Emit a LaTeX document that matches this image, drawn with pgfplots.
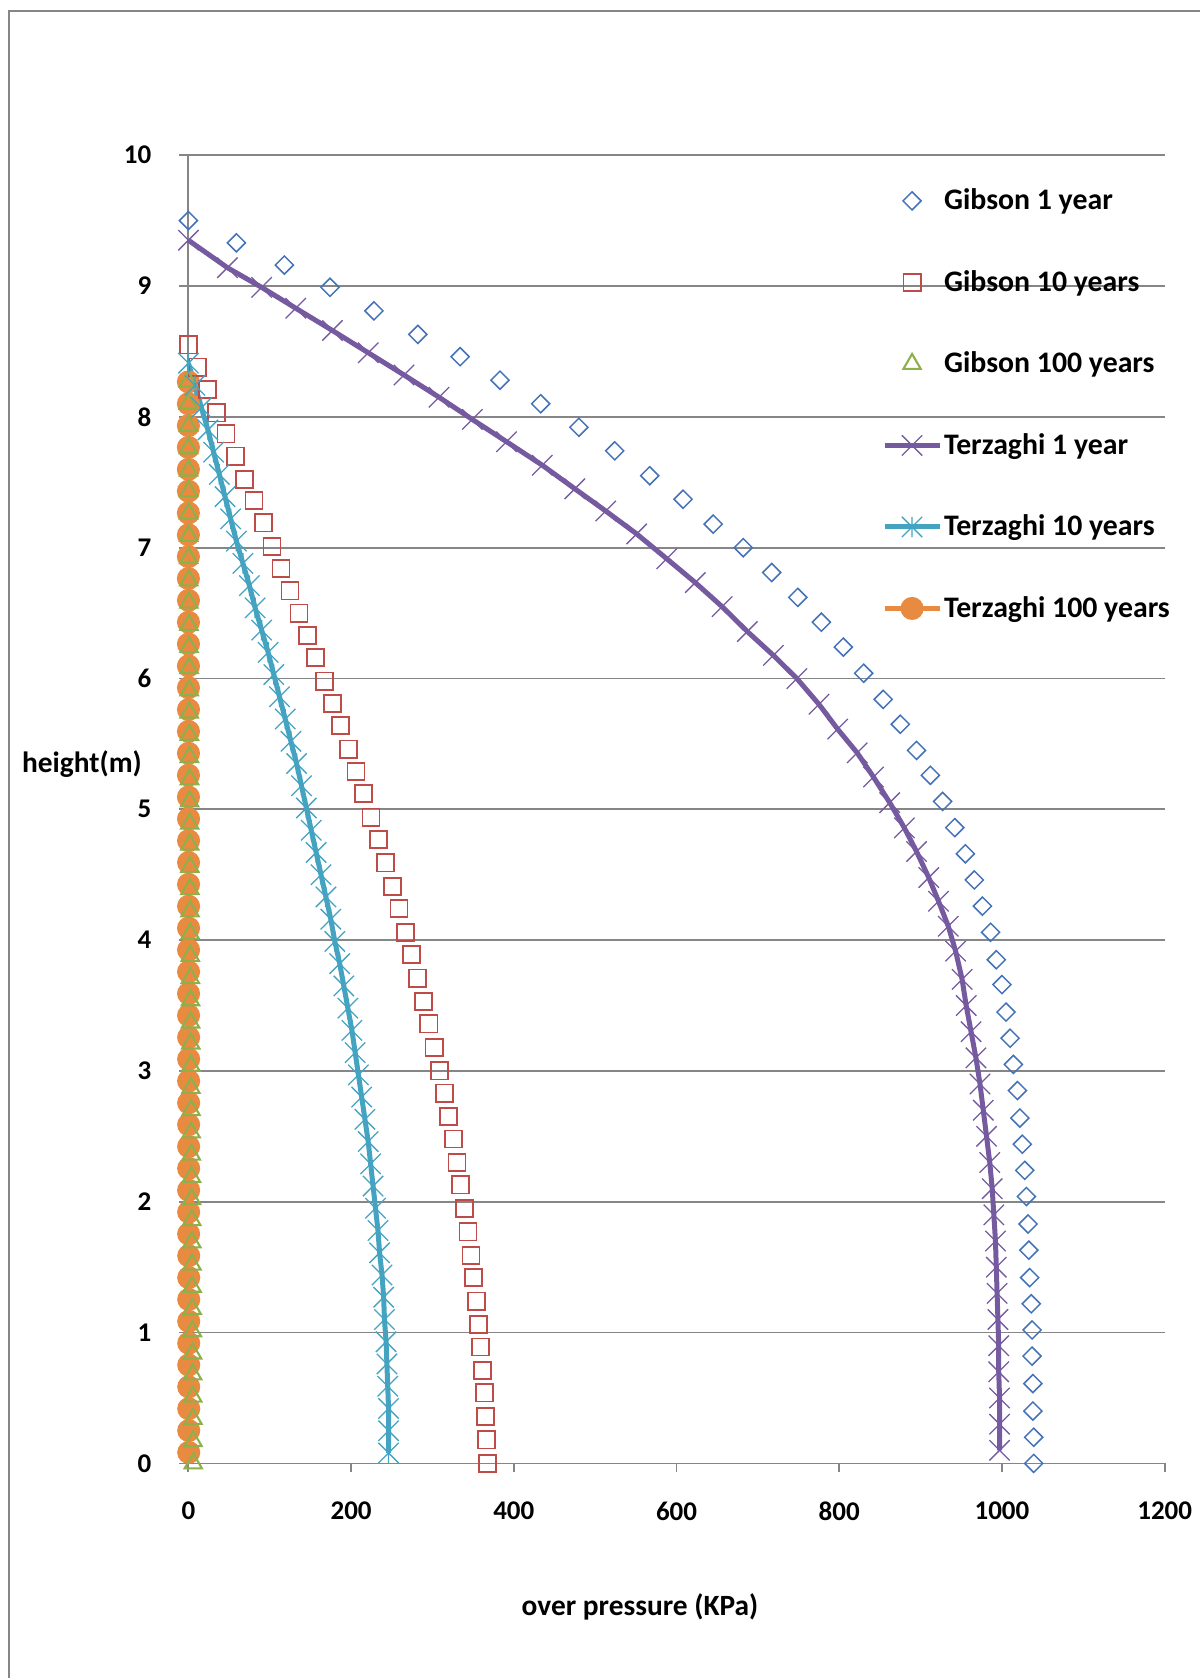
\documentclass[border=0pt]{standalone}
\usepackage{pgfplots}
\pgfplotsset{compat=1.18}
\usepackage{fontspec}
\setmainfont{Carlito}
\definecolor{cblue}{HTML}{4472B8}
\definecolor{cred}{HTML}{BE4B48}
\definecolor{cgreen}{HTML}{8DB04A}
\definecolor{cpurple}{HTML}{765AA0}
\definecolor{cteal}{HTML}{45A3C2}
\definecolor{corange}{HTML}{E88B41}
\definecolor{cgrid}{HTML}{868686}
\pgfdeclareplotmark{xstar}{%
  \pgfpathmoveto{\pgfqpoint{-.70710678\pgfplotmarksize}{-.70710678\pgfplotmarksize}}%
  \pgfpathlineto{\pgfqpoint{.70710678\pgfplotmarksize}{.70710678\pgfplotmarksize}}%
  \pgfpathmoveto{\pgfqpoint{-.70710678\pgfplotmarksize}{.70710678\pgfplotmarksize}}%
  \pgfpathlineto{\pgfqpoint{.70710678\pgfplotmarksize}{-.70710678\pgfplotmarksize}}%
  \pgfpathmoveto{\pgfqpoint{0pt}{-.70710678\pgfplotmarksize}}%
  \pgfpathlineto{\pgfqpoint{0pt}{.70710678\pgfplotmarksize}}%
  \pgfusepathqstroke}
\pgfplotsset{mylegend/.style={legend image code/.code={\draw[mark repeat=2,mark phase=2,##1] plot coordinates {(0pt,0pt) (13.75pt,0pt) (27.5pt,0pt)};}}}
\begin{document}
\begin{tikzpicture}
\begin{axis}[
  name=ax,
  scale only axis,
  width=488.15pt, height=654.1pt,
  xmin=0, xmax=1200, ymin=0, ymax=10,
  xtick={0,200,400,600,800,1000,1200},
  ytick={0,1,2,3,4,5,6,7,8,9,10},
  axis x line=bottom, axis y line=left,
  axis line style={draw=cgrid, line width=0.9pt, -},
  ymajorgrids, grid style={draw=cgrid, line width=0.9pt},
  tick align=outside, major tick length=4.5pt,
  tick style={draw=cgrid, line width=0.9pt},
  /pgf/number format/assume math mode=true,
  /pgf/number format/1000 sep={},
  ticklabel style={font=\bfseries\fontsize{13.5}{16}\selectfont},
  xticklabel style={anchor=center, inner sep=0pt, yshift=-19.3pt},
  yticklabel style={anchor=east, inner sep=0pt, xshift=-13.9pt},
  xlabel={over pressure (KPa)},
  ylabel={height(m)},
  every axis x label/.style={at={(rel axis cs:0.4626,-0.1098)}, anchor=center, font=\bfseries\fontsize{14.7}{17}\selectfont},
  every axis y label/.style={at={(rel axis cs:-0.109,0.5346)}, anchor=center, font=\bfseries\fontsize{14.7}{17}\selectfont},
  clip=false,
  mylegend,
  legend cell align=left,
  legend style={at={(rel axis cs:0.7101,0.9745)}, anchor=north west, draw=none, fill=none,
    inner sep=0pt, nodes={inner sep=0pt}, row sep=28.8pt,
    /tikz/every odd column/.append style={column sep=1pt},
    font=\bfseries\fontsize{14.9}{17}\selectfont},
]
% Terzaghi 100 years (drawn first, beneath the others)
\addplot[corange, line width=2.5pt, mark=*, mark size=4.5pt, mark options={solid}, forget plot] coordinates {
(0.4,0.084) (0.4,0.251) (0.4,0.418) (0.4,0.585) (0.4,0.752) (0.4,0.919) (0.4,1.086) (0.4,1.253) (0.4,1.420) (0.4,1.587)
(0.3,1.754) (0.3,1.921) (0.3,2.088) (0.3,2.255) (0.3,2.422) (0.3,2.589) (0.3,2.756) (0.3,2.923) (0.3,3.090) (0.3,3.257)
(0.2,3.424) (0.2,3.591) (0.2,3.758) (0.2,3.925) (0.2,4.092) (0.2,4.259) (0.2,4.426) (0.2,4.593) (0.2,4.760) (0.2,4.927)
(0.1,5.094) (0.1,5.261) (0.1,5.428) (0.1,5.595) (0.1,5.762) (0.1,5.929) (0.1,6.096) (0.1,6.263) (0.1,6.430) (0.1,6.597)
(0.0,6.764) (0.0,6.931) (0.0,7.098) (0.0,7.265) (0.0,7.432) (0.0,7.599) (0.0,7.766) (0.0,7.933) (0.0,8.100) (0.0,8.267)
};
% Gibson 1 year
\addplot[only marks, cblue, mark=square, mark size=3.2pt, mark options={rotate=45, line width=0.75pt}, mylegend] coordinates {
(0,9.50) (59,9.33) (118,9.16) (174,8.99) (228,8.81) (282,8.63) (334,8.46) (383,8.28) (433,8.10) (480,7.92)
(524,7.74) (567,7.55) (608,7.37) (645,7.18) (682,7.00) (717,6.81) (749,6.62) (778,6.43) (805,6.24) (830,6.04)
(854,5.84) (875,5.65) (895,5.45) (912,5.26) (927,5.06) (942,4.86) (955,4.66) (966,4.46) (976,4.26) (986,4.06)
(993,3.85) (1000,3.66) (1005,3.45) (1010,3.25) (1014,3.05) (1019,2.85) (1022,2.64) (1025,2.44) (1028,2.24) (1030,2.04)
(1032,1.83) (1033,1.63) (1034,1.42) (1036,1.22) (1037,1.02) (1037,0.82) (1038,0.61) (1038,0.40) (1039,0.20) (1039,0.00)
};
\addlegendentry{Gibson 1 year}
% Gibson 10 years
\addplot[only marks, cred, mark=square, mark size=4.3pt, mark options={line width=0.85pt}, mylegend] coordinates {
(0,8.55) (11.4,8.38) (23.3,8.21) (34.3,8.03) (46.2,7.87) (57.7,7.70) (69.2,7.52) (80.6,7.36) (92.1,7.19) (102.8,7.01)
(113.8,6.84) (124.9,6.67) (135.9,6.50) (146.2,6.33) (156.4,6.16) (167.1,5.98) (176.9,5.81) (187.2,5.64) (196.6,5.46) (206.0,5.29)
(215.4,5.12) (224.4,4.94) (233.4,4.77) (242.0,4.59) (251.1,4.41) (258.9,4.24) (266.6,4.06) (274.4,3.89) (281.8,3.71) (288.7,3.53)
(295.5,3.36) (302.1,3.18) (308.4,3.00) (314.6,2.83) (319.9,2.65) (325.6,2.48) (330.2,2.30) (334.7,2.13) (339.6,1.95) (343.7,1.77)
(347.4,1.59) (350.7,1.42) (353.9,1.24) (356.8,1.06) (359.3,0.89) (361.7,0.71) (363.7,0.54) (364.9,0.36) (366.2,0.18) (367.4,0.00)
};
\addlegendentry{Gibson 10 years}
% Gibson 100 years
\addplot[only marks, cgreen, mark=triangle, mark size=5pt, mark options={line width=1.05pt}, mylegend] coordinates {
(0.0,8.27) (0.0,8.10) (0.1,7.93) (0.1,7.76) (0.2,7.59) (0.2,7.43) (0.3,7.26) (0.4,7.09) (0.4,6.92) (0.5,6.75)
(0.6,6.58) (0.7,6.41) (0.8,6.24) (0.9,6.08) (1.0,5.91) (1.0,5.74) (1.1,5.57) (1.2,5.40) (1.4,5.23) (1.5,5.06)
(1.6,4.89) (1.7,4.73) (1.8,4.56) (1.9,4.39) (2.0,4.22) (2.2,4.05) (2.3,3.88) (2.4,3.71) (2.6,3.54) (2.7,3.37)
(2.9,3.21) (3.0,3.04) (3.1,2.87) (3.3,2.70) (3.4,2.53) (3.6,2.36) (3.8,2.19) (3.9,2.02) (4.1,1.86) (4.2,1.69)
(4.4,1.52) (4.6,1.35) (4.7,1.18) (4.9,1.01) (5.1,0.84) (5.3,0.68) (5.4,0.51) (5.6,0.34) (5.8,0.17) (6.0,0.00)
};
\addlegendentry{Gibson 100 years}
% Terzaghi 1 year
\addplot[cpurple, line width=2.5pt, mark=x, mark size=7.2pt, mark options={solid, line width=0.65pt}] coordinates {
(0,9.35) (48,9.14) (90,8.99) (132,8.83) (177,8.66) (221,8.49) (265,8.32) (308,8.15) (349,7.98) (391,7.81)
(435,7.63) (475,7.45) (513,7.28) (551,7.105) (588,6.915) (623,6.733) (656,6.549) (687,6.359) (719,6.177) (748,5.999)
(775,5.803) (798,5.613) (822,5.432) (842,5.247) (862,5.051) (880,4.858) (895,4.677) (910,4.478) (922,4.297) (934,4.106)
(943,3.916) (951,3.70) (956,3.50) (962,3.30) (968,3.10) (973,2.90) (977,2.70) (981,2.50) (985,2.30) (988,2.10)
(990,1.90) (992,1.70) (993,1.50) (994,1.30) (995,1.10) (996,0.90) (996,0.70) (997,0.50) (997,0.30) (997,0.10)
};
\addlegendentry{Terzaghi 1 year}
% Terzaghi 10 years
\addplot[cteal, line width=2.5pt, mark=xstar, mark size=7.2pt, mark options={solid, line width=0.65pt}] coordinates {
(0,8.41) (8,8.24) (16,8.07) (24,7.90) (31,7.73) (38,7.56) (45,7.39) (52,7.22) (59,7.05) (67,6.88)
(75,6.71) (82,6.54) (90,6.37) (98,6.20) (105,6.03) (112,5.86) (119,5.69) (126,5.52) (133,5.35) (139,5.18)
(145,5.01) (151,4.84) (157,4.67) (163,4.50) (169,4.33) (175,4.16) (180,3.99) (186,3.82) (191,3.65) (196,3.48)
(201,3.31) (205,3.14) (209,2.97) (213,2.80) (217,2.63) (221,2.46) (224,2.29) (227,2.12) (230,1.95) (233,1.78)
(235,1.61) (238,1.44) (240,1.27) (241,1.10) (243,0.93) (244,0.76) (245,0.59) (246,0.42) (246,0.25) (246,0.08)
};
\addlegendentry{Terzaghi 10 years}
\addlegendimage{corange, line width=2.5pt, mark=*, mark size=4.5pt, mark options={solid}}
\addlegendentry{Terzaghi 100 years}
\end{axis}
\path[use as bounding box] ([shift={(-94.2pt,-107.3pt)}]ax.south west) rectangle ++(600pt,839pt);
\draw[cgrid, line width=0.7pt] ([shift={(-89.7pt,-130pt)}]ax.south west) -- ([shift={(-89.7pt,726.2pt)}]ax.south west) -- ([shift={(530pt,726.2pt)}]ax.south west);
\end{tikzpicture}
\end{document}
